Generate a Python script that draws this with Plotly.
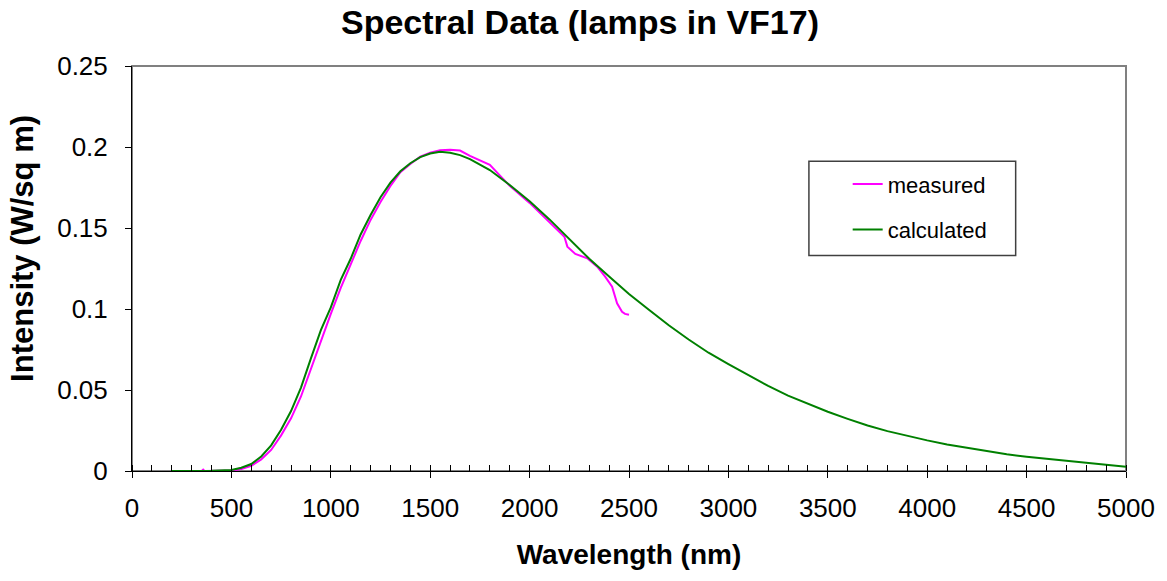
import plotly.graph_objects as go

# ---- data ----
wl_calc = [200, 300, 400, 500, 550, 600, 650, 700, 750, 800, 850, 900, 950, 1000,
           1050, 1100, 1150, 1200, 1250, 1300, 1350, 1400, 1450, 1500, 1550, 1600,
           1650, 1700, 1800, 1900, 2000, 2100, 2200, 2300, 2400, 2500, 2600, 2700,
           2800, 2900, 3000, 3100, 3200, 3300, 3400, 3500, 3600, 3700, 3800, 3900,
           4000, 4100, 4200, 4300, 4400, 4500, 4600, 4700, 4800, 4900, 5000]
int_calc = [0.0, 0.0, 0.0001, 0.0006, 0.002, 0.0043, 0.009, 0.0158, 0.0255, 0.037,
            0.0515, 0.0695, 0.087, 0.101, 0.118, 0.131, 0.146, 0.158, 0.169, 0.178,
            0.185, 0.190, 0.1938, 0.196, 0.197, 0.1965, 0.195, 0.1925, 0.1858,
            0.1765, 0.1665, 0.1553, 0.143, 0.131, 0.120, 0.1093, 0.0995, 0.090,
            0.0812, 0.073, 0.066, 0.059, 0.0525, 0.0465, 0.0413, 0.0366, 0.0322,
            0.0281, 0.0246, 0.0216, 0.0189, 0.0164, 0.0143, 0.0123, 0.0103, 0.0088,
            0.0075, 0.0061, 0.0049, 0.0036, 0.0026]

wl_meas = [350, 358, 365, 480, 500, 550, 600, 650, 700, 750, 800, 850, 900, 950,
           1000, 1050, 1100, 1150, 1200, 1250, 1300, 1350, 1400, 1450, 1500, 1550,
           1600, 1650, 1700, 1750, 1800, 1850, 1900, 2000, 2100, 2150, 2175, 2190,
           2230, 2290, 2340, 2380, 2415, 2440, 2465, 2480, 2500]
int_meas = [0.0, 0.0008, 0.0, 0.0, 0.0003, 0.0012, 0.0032, 0.0072, 0.013, 0.022,
            0.0325, 0.046, 0.063, 0.081, 0.097, 0.113, 0.128, 0.142, 0.155, 0.166,
            0.176, 0.1845, 0.1895, 0.194, 0.1965, 0.198, 0.1983, 0.1978, 0.1945,
            0.1918, 0.189, 0.1825, 0.176, 0.1655, 0.1535, 0.147, 0.1446, 0.1385,
            0.134, 0.1313, 0.1261, 0.120, 0.1138, 0.1035, 0.0983, 0.097, 0.0965]

x_ticks = list(range(0, 5001, 500))
y_ticks = [0, 0.05, 0.1, 0.15, 0.2, 0.25]

FONT = "Liberation Sans, Arial, sans-serif"

fig = go.Figure()
fig.add_trace(go.Scatter(x=wl_meas, y=int_meas, mode="lines", name="measured",
                         line=dict(color="#FF00FF", width=2), legendgroup="a",
                         cliponaxis=False))
fig.add_trace(go.Scatter(x=wl_calc, y=int_calc, mode="lines", name="calculated",
                         line=dict(color="#008000", width=2), legendgroup="b",
                         cliponaxis=False))

fig.update_layout(
    width=1167, height=581,
    margin=dict(l=132, r=37, t=66, b=110),
    paper_bgcolor="white", plot_bgcolor="white",
    font=dict(family=FONT, color="black", size=26),
    title=dict(text="<b>Spectral Data (lamps in VF17)</b>", x=0.497, xref="container",
               xanchor="center", y=0.962, yref="container", yanchor="middle",
               font=dict(size=34, family=FONT)),
    xaxis=dict(range=[0, 5000], tickvals=x_ticks, ticks="outside", ticklen=6,
               tickcolor="black", showline=True, linecolor="black", linewidth=1,
               showgrid=False, zeroline=False, ticklabelstandoff=8,
               minor=dict(dtick=100, ticks="inside", ticklen=6, tickcolor="black",
                          showgrid=False),
               title=dict(text="<b>Wavelength (nm)</b>", font=dict(size=28), standoff=22),
               tickfont=dict(size=26)),
    yaxis=dict(range=[0, 0.25], tickvals=y_ticks, ticks="outside", ticklen=6,
               tickcolor="black", showline=True, linecolor="black", linewidth=1,
               showgrid=False, zeroline=False, ticklabelstandoff=12,
               tickfont=dict(size=26)),
    annotations=[
        dict(text="<b>Intensity (W/sq m)</b>", textangle=-90, xref="paper",
             yref="paper", x=-0.11, y=0.55, xanchor="center", yanchor="middle",
             showarrow=False, font=dict(size=31, family=FONT)),
    ],
    legend=dict(x=0.72, y=0.76, xanchor="left", yanchor="top",
                bgcolor="rgba(0,0,0,0)", borderwidth=0, font=dict(size=22),
                traceorder="grouped", tracegroupgap=14),
    shapes=[
        dict(type="rect", xref="paper", yref="paper", x0=0, x1=1, y0=0, y1=1,
             line=dict(color="#808080", width=2), layer="below"),
        dict(type="rect", xref="paper", yref="paper", x0=0.681, x1=0.889,
             y0=0.532, y1=0.765, line=dict(color="#404040", width=1.5)),
    ],
)

fig.write_html("out.html")
